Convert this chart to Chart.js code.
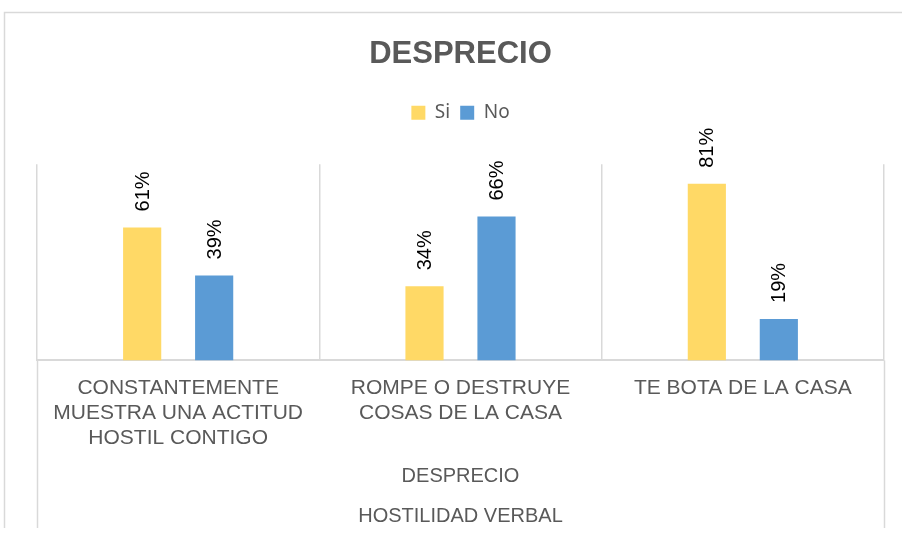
<!DOCTYPE html>
<html>
<head>
<meta charset="utf-8">
<script src="https://cdn.jsdelivr.net/npm/chart.js@4"></script>
<style>
  body { margin: 0; background: #fff; overflow: hidden; }
  #wrap { width: 902px; height: 533px; }
</style>
</head>
<body>
<div id="wrap"><canvas id="myChart" width="902" height="533"></canvas></div>
<script>
const categories = [
  ['CONSTANTEMENTE', 'MUESTRA UNA ACTITUD', 'HOSTIL CONTIGO'],
  ['ROMPE O DESTRUYE', 'COSAS DE LA CASA'],
  'TE BOTA DE LA CASA'
];
const groupLabels = ['DESPRECIO', '', 'HOSTILIDAD VERBAL'];
const siValues = [61, 34, 81];
const noValues = [39, 66, 19];

const grey = '#595959';
const lineGrey = '#d9d9d9';

// frame + long outer lines
const frameLines = {
  id: 'frameLines',
  beforeUpdate(chart) {
    // extra room under the legend
    const lg = chart.legend;
    if (lg && !lg._spaced) {
      const fit = lg.fit;
      lg.fit = function () {
        fit.call(this);
        this.height += 32;
      };
      lg._spaced = true;
    }
  },
  beforeDraw(chart) {
    const { ctx, chartArea, scales } = chart;
    ctx.save();
    ctx.strokeStyle = lineGrey;
    ctx.lineWidth = 1.5;
    ctx.beginPath();
    ctx.moveTo(4.5, 528);
    ctx.lineTo(4.5, 12.5);
    ctx.lineTo(chart.width, 12.5);
    ctx.stroke();
    const x = scales.x;
    [x.left, x.right].forEach(px => {
      ctx.beginPath();
      ctx.moveTo(Math.round(px) + 0.5, chartArea.bottom);
      ctx.lineTo(Math.round(px) + 0.5, 528);
      ctx.stroke();
    });
    ctx.restore();
  }
};

// rotated value labels above bars
const barLabels = {
  id: 'barLabels',
  afterDatasetsDraw(chart) {
    const { ctx } = chart;
    ctx.save();
    ctx.font = '20px "Liberation Sans", Arial, sans-serif';
    ctx.fillStyle = '#000';
    ctx.textAlign = 'left';
    ctx.textBaseline = 'middle';
    chart.data.datasets.forEach((ds, i) => {
      chart.getDatasetMeta(i).data.forEach((bar, j) => {
        ctx.save();
        ctx.translate(bar.x + 1, bar.y - 16);
        ctx.rotate(-Math.PI / 2);
        ctx.fillText(ds.data[j] + '%', 0, 0);
        ctx.restore();
      });
    });
    ctx.restore();
  }
};

new Chart(document.getElementById('myChart'), {
  type: 'bar',
  data: {
    labels: categories,
    datasets: [
      { label: 'Si', data: siValues, backgroundColor: '#FFD966' },
      { label: 'No', data: noValues, backgroundColor: '#5B9BD5' }
    ]
  },
  options: {
    responsive: false,
    animation: false,
    categoryPercentage: 0.51,
    barPercentage: 0.53,
    layout: { padding: { left: 37, right: 18, top: 36, bottom: 7 } },
    plugins: {
      title: {
        display: true,
        text: 'DESPRECIO',
        color: grey,
        font: { size: 31, weight: 'bold', family: '"Liberation Sans", Arial, sans-serif', lineHeight: 1.2 },
        padding: { top: 0, bottom: 20 }
      },
      legend: {
        display: true,
        labels: {
          color: grey,
          boxWidth: 14,
          boxHeight: 14,
          padding: 10,
          font: { size: 19, family: '"Noto Sans", sans-serif' }
        }
      },
      tooltip: { enabled: false }
    },
    scales: {
      y: { display: false, min: 0, max: 90 },
      x: {
        grid: { color: lineGrey, lineWidth: 1.5, drawTicks: false },
        border: { color: lineGrey, width: 2 },
        ticks: {
          color: grey,
          padding: 15,
          maxRotation: 0,
          font: { size: 21, family: '"Liberation Sans", Arial, sans-serif', lineHeight: 1.2 }
        },
        title: {
          display: true,
          text: groupLabels,
          color: grey,
          padding: { top: 0, bottom: 0 },
          font: { size: 20, family: '"Liberation Sans", Arial, sans-serif', lineHeight: 1 }
        }
      }
    }
  },
  plugins: [frameLines, barLabels]
});
</script>
</body>
</html>
